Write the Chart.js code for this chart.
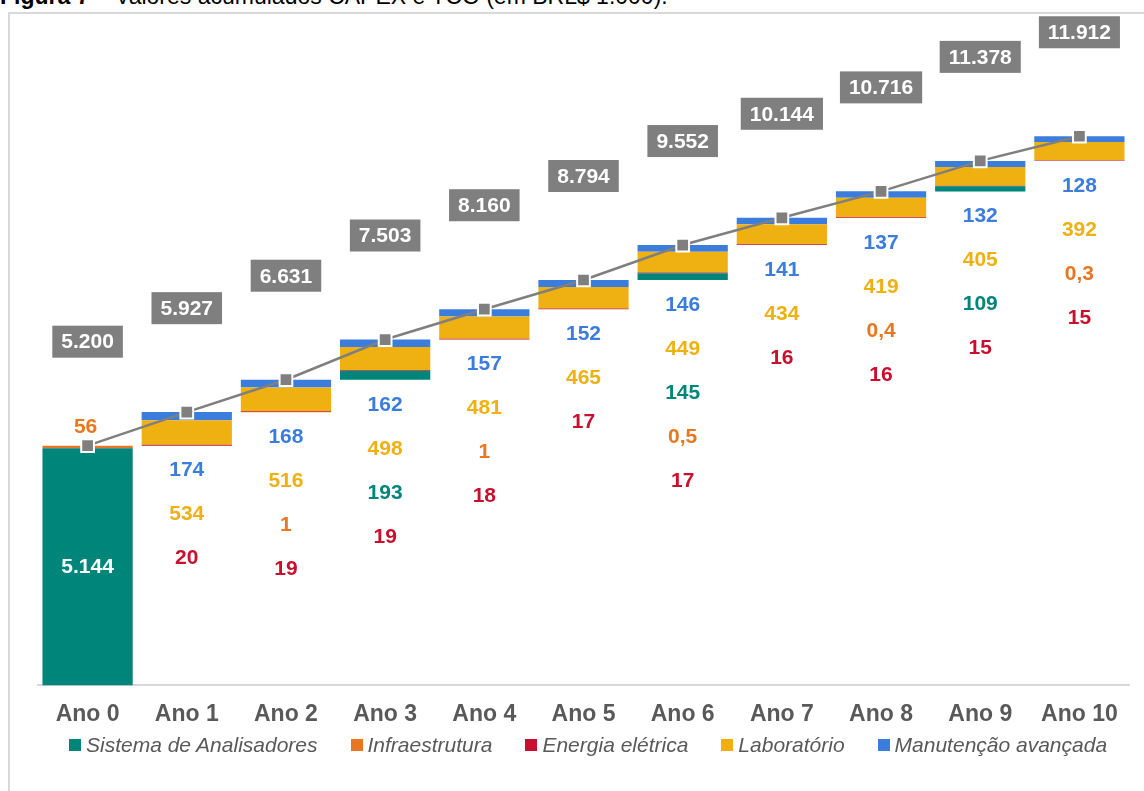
<!DOCTYPE html>
<html>
<head>
<meta charset="utf-8">
<script src="https://cdn.jsdelivr.net/npm/chart.js@4.4.1/dist/chart.umd.min.js"></script>
<style>
    body { margin: 0; background: #fff; overflow: hidden; }
    #wrap { position: relative; width: 1144px; height: 791px; overflow: hidden; }
    #title { position: absolute; left: 0; top: -15px; font: 23px Arial, "Liberation Sans", sans-serif; line-height: 23px; white-space: nowrap; color: #000; }
    #frame { position: absolute; left: 8px; top: 12px; width: 1200px; height: 900px; border: 2px solid #d9d9d9; }
    #myChart { position: absolute; left: 0; top: 0; }
    #legend { position: absolute; left: 69px; top: 732px; display: flex; gap: 33px; font: italic 21px Arial, "Liberation Sans", sans-serif; color: #595959; line-height: 26px; white-space: nowrap; }
    #legend span.item { display: flex; align-items: center; }
    #legend i.box { display: inline-block; width: 12px; height: 12px; margin-right: 5px; }
</style>
</head>
<body>
<div id="wrap">
    <div id="title"><b>Figura 7</b> – Valores acumulados CAPEX e TCO (em BRL$ 1.000).</div>
    <div id="frame"></div>
    <canvas id="myChart" width="1144" height="791"></canvas>
    <div id="legend"></div>
</div>
<script>
const years = ['Ano 0', 'Ano 1', 'Ano 2', 'Ano 3', 'Ano 4', 'Ano 5', 'Ano 6', 'Ano 7', 'Ano 8', 'Ano 9', 'Ano 10'];
const sistema = [5144, 0, 0, 193, 0, 0, 145, 0, 0, 109, 0];
const infra = [56, 0, 1, 0, 1, 0, 0.5, 0, 0.4, 0, 0.3];
const energia = [0, 20, 19, 19, 18, 17, 17, 16, 16, 15, 15];
const laboratorio = [0, 534, 516, 498, 481, 465, 449, 434, 419, 405, 392];
const manutencao = [0, 174, 168, 162, 157, 152, 146, 141, 137, 132, 128];
const totals = [5200, 5927, 6631, 7503, 8160, 8794, 9552, 10144, 10716, 11378, 11912];

// invisible base so each year floats on the previous total
const base = totals.map((t, i) => i === 0 ? 0 : totals[i - 1]);

const colors = {
    teal: '#00857a',
    orange: '#e87722',
    red: '#c8102e',
    yellow: '#efb112',
    blue: '#3b7ddd',
    gray: '#7f7f7f'
};

function fmt(v) {
    if (v < 1) return String(v).replace('.', ',');
    return String(Math.round(v)).replace(/\B(?=(\d{3})+(?!\d))/g, '.');
}

const labelPlugin = {
    id: 'labels',
    afterDatasetsDraw(chart) {
        const ctx = chart.ctx;
        const y = chart.scales.y;
        const lineMeta = chart.getDatasetMeta(6);
        ctx.save();
        ctx.font = 'bold 21px Arial, "Liberation Sans", sans-serif';
        ctx.textAlign = 'center';
        ctx.textBaseline = 'middle';

        lineMeta.data.forEach((pt, i) => {
            // gray total boxes
            const txt = fmt(totals[i]);
            const w = ctx.measureText(txt).width + 18;
            const cy = pt.y - 104;
            ctx.fillStyle = colors.gray;
            ctx.fillRect(pt.x - w / 2, cy - 16, w, 32);
            ctx.fillStyle = '#fff';
            ctx.fillText(txt, pt.x, cy + 1);

            if (i === 0) {
                ctx.fillStyle = colors.orange;
                ctx.fillText(fmt(infra[0]), pt.x - 2, y.getPixelForValue(totals[0]) - 18);
                ctx.fillStyle = '#fff';
                ctx.fillText(fmt(sistema[0]), pt.x, y.getPixelForValue(sistema[0] / 2));
                return;
            }

            // segment values listed under each floating bar
            const items = [
                [manutencao[i], colors.blue],
                [laboratorio[i], colors.yellow],
                [sistema[i], colors.teal],
                [infra[i], colors.orange],
                [energia[i], colors.red]
            ].filter(d => d[0] > 0);
            const bottom = y.getPixelForValue(base[i]);
            items.forEach((d, k) => {
                ctx.fillStyle = d[1];
                ctx.fillText(fmt(d[0]), pt.x, bottom + 25 + k * 44);
            });
        });
        ctx.restore();
    }
};

const seriesNames = ['Sistema de Analisadores', 'Infraestrutura', 'Energia elétrica', 'Laboratório', 'Manutenção avançada'];
const seriesColors = [colors.teal, colors.orange, colors.red, colors.yellow, colors.blue];

const legend = document.getElementById('legend');
seriesNames.forEach((name, i) => {
    const item = document.createElement('span');
    item.classList.add('item');
    const box = document.createElement('i');
    box.classList.add('box');
    box.style.background = seriesColors[i];
    item.appendChild(box);
    item.appendChild(document.createTextNode(name));
    legend.appendChild(item);
});

const ctx = document.getElementById('myChart');

new Chart(ctx, {
    type: 'bar',
    data: {
        labels: years,
        datasets: [
            { label: 'base', data: base, backgroundColor: 'rgba(0,0,0,0)', order: 1 },
            { label: seriesNames[0], data: sistema, backgroundColor: colors.teal, order: 1 },
            { label: seriesNames[1], data: infra, backgroundColor: colors.orange, order: 1 },
            { label: seriesNames[2], data: energia, backgroundColor: colors.red, order: 1 },
            { label: seriesNames[3], data: laboratorio, backgroundColor: colors.yellow, order: 1 },
            { label: seriesNames[4], data: manutencao, backgroundColor: colors.blue, order: 1 },
            {
                type: 'line',
                label: 'Total',
                data: totals,
                borderColor: colors.gray,
                borderWidth: 2.5,
                pointStyle: 'rect',
                pointRadius: 9,
                pointBackgroundColor: colors.gray,
                pointBorderColor: '#fff',
                pointBorderWidth: 2,
                tension: 0,
                order: 0
            }
        ]
    },
    options: {
        responsive: false,
        animation: false,
        barPercentage: 0.91,
        categoryPercentage: 1,
        layout: { padding: { left: 38, right: 15, top: 40, bottom: 48 } },
        scales: {
            x: {
                stacked: true,
                grid: { display: false, drawTicks: false },
                border: { color: '#d9d9d9', width: 2 },
                ticks: {
                    padding: 15,
                    color: '#595959',
                    font: { family: 'Arial, "Liberation Sans", sans-serif', size: 23, weight: 'bold' }
                }
            },
            y: {
                stacked: true,
                display: false,
                min: 0,
                max: 14000
            }
        },
        plugins: {
            tooltip: { enabled: false },
            legend: { display: false }
        }
    },
    plugins: [labelPlugin]
});
</script>
</body>
</html>
